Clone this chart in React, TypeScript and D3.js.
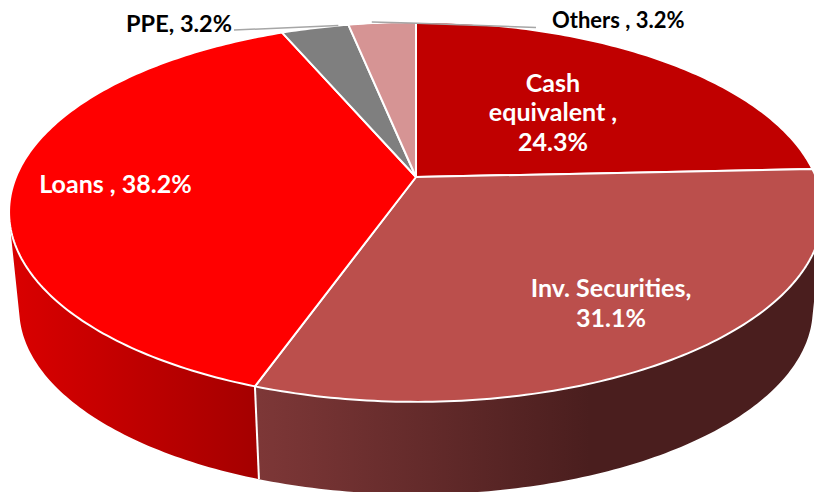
import React from "react";
import * as d3 from "d3";

const categories = ["Cash equivalent", "Inv. Securities", "Loans", "PPE", "Others"];
const shares = [24.3, 31.1, 38.2, 3.2, 3.2];
const faceColors = ["#c00000", "#bb4f4c", "#ff0000", "#7f7f7f", "#d69494"];
const sideStops = [
  ["#a00000", "#a00000"],
  ["#7d3737", "#4a1e1e"],
  ["#d80000", "#a40000"],
  ["#555555", "#555555"],
  ["#a06f6f", "#a06f6f"],
];

const W = 814, H = 492;
const apex = { x: 416, y: 177 };
const persp = 0.184, A = 400, B = 183.5;
const lower = { y: 275, scale: 0.975 };
const font = "'Lato', 'Open Sans', sans-serif";

const rim = (t: number, y0: number, s: number): [number, number] => {
  const d = 1 + persp * Math.cos(t);
  return [apex.x + (s * A * Math.sin(t)) / d, y0 - (s * B * Math.cos(t)) / d];
};
const sample = (a: number, b: number) => {
  const n = Math.max(4, Math.ceil(Math.abs(b - a) / 0.015));
  return d3.range(n + 1).map((i) => a + ((b - a) * i) / n);
};

const pie = d3.pie<number>().sort(null).value((d) => d);
const line = d3.line();

export default function App() {
  const arcs = pie(shares);
  const faces = arcs.map((a) => {
    const pts = sample(a.startAngle, a.endAngle).map((t) => rim(t, apex.y, 1));
    return line([[apex.x, apex.y], ...pts])! + "Z";
  });
  // Wall of each slice: one consistently wound quad per rim step, so the
  // union stays filled past the point where the rim turns back.
  const sides = arcs.map((a) => {
    const ts = sample(a.startAngle, a.endAngle);
    return ts
      .slice(1)
      .map((t, i) => {
        const q: [number, number][] = [
          rim(ts[i], apex.y, 1),
          rim(t, apex.y, 1),
          rim(t, lower.y, lower.scale),
          rim(ts[i], lower.y, lower.scale),
        ];
        return line(d3.polygonArea(q) < 0 ? q.reverse() : q)! + "Z";
      })
      .join("");
  });
  const junction = (t: number) => line([rim(t, apex.y, 1), rim(t, lower.y, lower.scale)])!;
  const gx = [
    [416, 810],
    [259, 590],
    [20, 259],
    [280, 350],
    [350, 416],
  ];
  const ppeAnchor = rim(arcs[3].endAngle - 0.03, apex.y, 1);
  const othersAnchor = rim(arcs[4].startAngle + 0.07, apex.y, 1);

  return (
    <svg
      width={W}
      height={H}
      viewBox={`0 0 ${W} ${H}`}
      style={{ position: "absolute", left: 0, top: 0, display: "block", background: "#fff" }}
      fontFamily={font}
    >
      <defs>
        {sideStops.map((s, i) => (
          <linearGradient key={i} id={`side${i}`} gradientUnits="userSpaceOnUse" x1={gx[i][0]} x2={gx[i][1]} y1={0} y2={0}>
            <stop offset="0" stopColor={s[0]} />
            <stop offset="1" stopColor={s[1]} />
          </linearGradient>
        ))}
      </defs>

      {sides.map((d, i) => (
        <path key={categories[i]} d={d} fill={`url(#side${i})`} />
      ))}
      <path d={junction(arcs[2].startAngle)} stroke="#fff" strokeWidth={2} fill="none" />
      {faces.map((d, i) => (
        <path key={categories[i]} d={d} fill={faceColors[i]} stroke="#fff" strokeWidth={2} strokeLinejoin="round" />
      ))}

      <polyline points={`234,30 ${ppeAnchor[0]},${ppeAnchor[1]}`} fill="none" stroke="#a6a6a6" strokeWidth={1.5} />
      <polyline points={`${othersAnchor[0]},22 410,23 536,27.5`} fill="none" stroke="#a6a6a6" strokeWidth={1.5} />

      <g fontWeight={700} fontSize={25} fill="#fff" textAnchor="middle">
        <text x={553} y={92}>Cash</text>
        <text x={553} y={121}>equivalent ,</text>
        <text x={553} y={151}>{shares[0].toFixed(1)}%</text>
        <text x={611} y={297}>{categories[1]},</text>
        <text x={611} y={327}>{shares[1].toFixed(1)}%</text>
        <text x={115.5} y={193}>{categories[2]} , {shares[2].toFixed(1)}%</text>
      </g>
      <text x={232} y={32} textAnchor="end" fontWeight={700} fontSize={23.5} fill="#000">
        {categories[3]}, {shares[3].toFixed(1)}%
      </text>
      <text x={552} y={28} fontWeight={700} fontSize={22} fill="#000">
        {categories[4]} , {shares[4].toFixed(1)}%
      </text>
    </svg>
  );
}
